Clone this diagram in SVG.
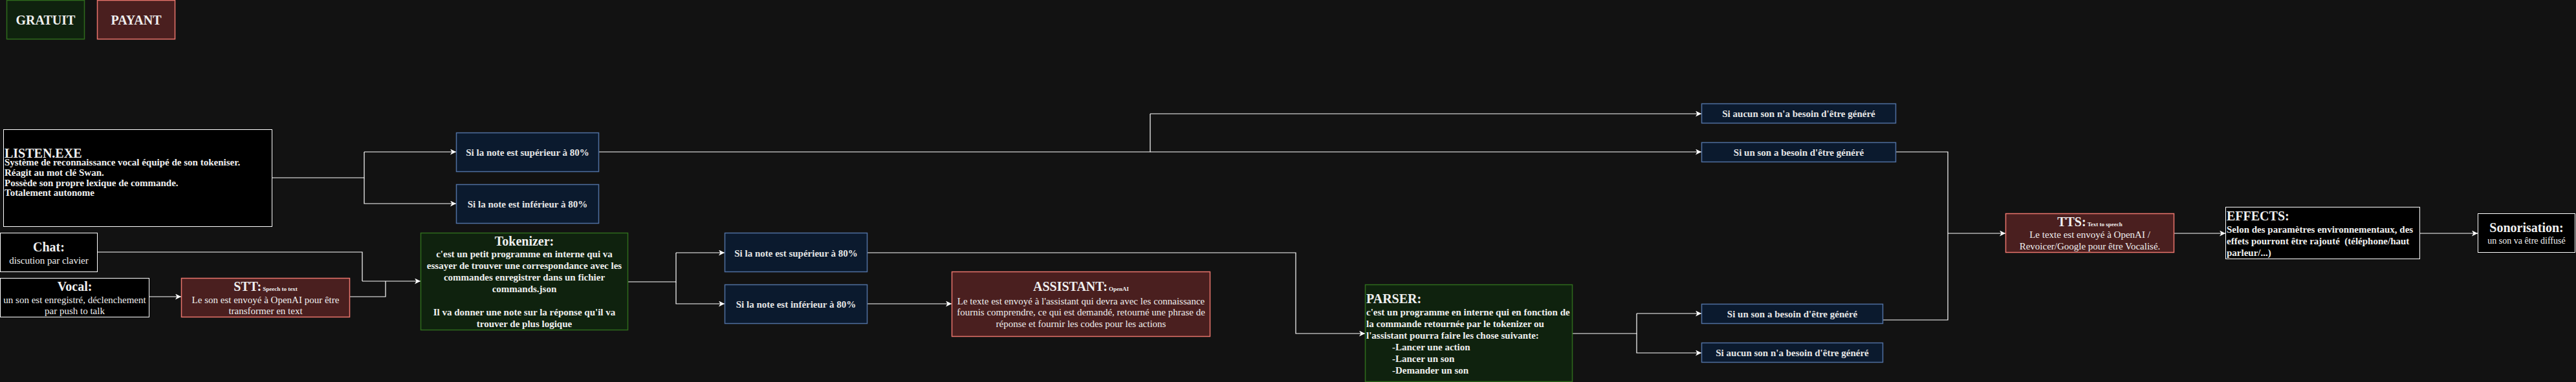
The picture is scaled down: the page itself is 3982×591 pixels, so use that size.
<svg xmlns="http://www.w3.org/2000/svg" width="3982" height="591" viewBox="0 0 3982 591">
<style>
text{font-family:"Liberation Serif","Times New Roman",serif;fill:#f0f0f0}
.t{font-size:20px;font-weight:bold}
.s{font-size:9px;font-weight:bold}
.r{font-size:15px}
.bb{font-size:15px;font-weight:bold}
.c{text-anchor:middle}
.blk{fill:#000;stroke:#fff;stroke-width:1}
.grn{fill:#0f220e;stroke:#2f6b1c;stroke-width:1.5}
.red{fill:#4a1f1f;stroke:#e9756c;stroke-width:1.5}
.blu{fill:#0b1a2e;stroke:#4f6fa0;stroke-width:1.5}
.blu + text{fill:#e6e6e6}
.ln{fill:none;stroke:#fff;stroke-width:1.2}
.ar{marker-end:url(#a)}
</style>
<defs>
<marker id="a" markerWidth="10" markerHeight="10" refX="9" refY="4.5" orient="auto" markerUnits="userSpaceOnUse"><path d="M0,0 L9,4.5 L0,9 L2.5,4.5 Z" fill="#fff"/></marker>
</defs>
<rect x="0" y="0" width="3982" height="591" fill="#121212"/>

<g id="connectors">
<path class="ln" d="M421 275 H563 V235"/>
<path class="ln ar" d="M563 235 H705"/>
<path class="ln ar" d="M563 275 V315 H705"/>
<path class="ln" d="M151 390 H560 V435"/>
<path class="ln" d="M541 459 H596 V435"/>
<path class="ln ar" d="M560 435 H650"/>
<path class="ln ar" d="M231 459 H280"/>
<path class="ln" d="M971 436 H1045 V391"/>
<path class="ln ar" d="M1045 391 H1120"/>
<path class="ln ar" d="M1045 436 V470 H1120"/>
<path class="ln ar" d="M1340 391 H2003 V516 H2110"/>
<path class="ln ar" d="M1340 470 H1471"/>
<path class="ln" d="M926 235 H1778 V176"/>
<path class="ln ar" d="M1778 176 H2630"/>
<path class="ln ar" d="M1778 235 H2630"/>
<path class="ln" d="M2431 516 H2530 V485"/>
<path class="ln ar" d="M2530 485 H2630"/>
<path class="ln ar" d="M2530 516 V546 H2630"/>
<path class="ln" d="M2931 235 H3011 V361"/>
<path class="ln" d="M2910 495 H3011 V361"/>
<path class="ln ar" d="M3011 361 H3100"/>
<path class="ln ar" d="M3361 361 H3440"/>
<path class="ln ar" d="M3741 361 H3830"/>
</g>

<g id="legend-gratuit">
<rect class="grn" x="10.5" y="0.5" width="120" height="60"/>
<text class="t c" x="70.5" y="38">GRATUIT</text>
</g>
<g id="legend-payant">
<rect class="red" x="150.5" y="0.5" width="120" height="60"/>
<text class="t c" x="210.5" y="38">PAYANT</text>
</g>

<g id="listen">
<rect class="blk" x="5.5" y="200.5" width="415" height="150"/>
<text class="t" x="7" y="244">LISTEN.EXE</text>
<text class="bb" x="7" y="256">Système de reconnaissance vocal équipé de son tokeniser.</text>
<text class="bb" x="7" y="272">Réagit au mot clé Swan.</text>
<text class="bb" x="7" y="288">Possède son propre lexique de commande.</text>
<text class="bb" x="7" y="303">Totalement autonome</text>
</g>

<g id="chat">
<rect class="blk" x="0.5" y="360.5" width="150" height="60"/>
<text class="t c" x="75.5" y="389">Chat:</text>
<text class="r c" x="75.5" y="408">discution par clavier</text>
</g>

<g id="vocal">
<rect class="blk" x="0.5" y="430.5" width="230" height="60"/>
<text class="t c" x="115.5" y="450">Vocal:</text>
<text class="r c" x="115.5" y="469">un son est enregistré, déclenchement</text>
<text class="r c" x="115.5" y="486">par push to talk</text>
</g>

<g id="stt">
<rect class="red" x="280.5" y="430.5" width="260" height="60"/>
<text class="c" x="410.5" y="450"><tspan class="t">STT:</tspan><tspan class="s"> Speech to text</tspan></text>
<text class="r c" x="410.5" y="469">Le son est envoyé à OpenAI pour être</text>
<text class="r c" x="410.5" y="486">transformer en text</text>
</g>

<g id="tokenizer">
<rect class="grn" x="650.5" y="360.5" width="320" height="150"/>
<text class="t c" x="810.5" y="380">Tokenizer:</text>
<text class="bb c" x="810.5" y="398">c'est un petit programme en interne qui va</text>
<text class="bb c" x="810.5" y="416">essayer de trouver une correspondance avec les</text>
<text class="bb c" x="810.5" y="434">commandes enregistrer dans un fichier</text>
<text class="bb c" x="810.5" y="452">commands.json</text>
<text class="bb c" x="810.5" y="488">Il va donner une note sur la réponse qu'il va</text>
<text class="bb c" x="810.5" y="506">trouver de plus logique</text>
</g>

<g id="listen-sup">
<rect class="blu" x="705.5" y="205.5" width="220" height="60"/>
<text class="bb c" x="815.5" y="241">Si la note est supérieur à 80%</text>
</g>
<g id="listen-inf">
<rect class="blu" x="705.5" y="285.5" width="220" height="60"/>
<text class="bb c" x="815.5" y="321">Si la note est inférieur à 80%</text>
</g>

<g id="tok-sup">
<rect class="blu" x="1120.5" y="360.5" width="220" height="60"/>
<text class="bb c" x="1230.5" y="397">Si la note est supérieur à 80%</text>
</g>
<g id="tok-inf">
<rect class="blu" x="1120.5" y="440.5" width="220" height="60"/>
<text class="bb c" x="1230.5" y="476">Si la note est inférieur à 80%</text>
</g>

<g id="assistant">
<rect class="red" x="1471.5" y="420.5" width="399" height="100"/>
<text class="c" x="1671" y="450"><tspan class="t">ASSISTANT:</tspan><tspan class="s"> OpenAI</tspan></text>
<text class="r c" x="1671" y="471">Le texte est envoyé à l'assistant qui devra avec les connaissance</text>
<text class="r c" x="1671" y="488">fournis comprendre, ce qui est demandé, retourné une phrase de</text>
<text class="r c" x="1671" y="506">réponse et fournir les codes pour les actions</text>
</g>

<g id="parser">
<rect class="grn" x="2110.5" y="440.5" width="320" height="150"/>
<text class="t" x="2112" y="469">PARSER:</text>
<text class="bb" x="2112" y="488">c'est un programme en interne qui en fonction de</text>
<text class="bb" x="2112" y="506">la commande retournée par le tokenizer ou</text>
<text class="bb" x="2112" y="524">l'assistant pourra faire les chose suivante:</text>
<text class="bb" x="2152" y="542">-Lancer une action</text>
<text class="bb" x="2152" y="560">-Lancer un son</text>
<text class="bb" x="2152" y="578">-Demander un son</text>
</g>

<g id="top-aucun">
<rect class="blu" x="2630.5" y="160.5" width="300" height="30"/>
<text class="bb c" x="2780.5" y="181">Si aucun son n'a besoin d'être généré</text>
</g>
<g id="top-son">
<rect class="blu" x="2630.5" y="220.5" width="300" height="30"/>
<text class="bb c" x="2780.5" y="241">Si un son a besoin d'être généré</text>
</g>
<g id="bot-son">
<rect class="blu" x="2630.5" y="470.5" width="280" height="30"/>
<text class="bb c" x="2770.5" y="491">Si un son a besoin d'être généré</text>
</g>
<g id="bot-aucun">
<rect class="blu" x="2630.5" y="530.5" width="280" height="30"/>
<text class="bb c" x="2770.5" y="551">Si aucun son n'a besoin d'être généré</text>
</g>

<g id="tts">
<rect class="red" x="3100.5" y="330.5" width="260" height="60"/>
<text class="c" x="3230.5" y="350"><tspan class="t">TTS:</tspan><tspan class="s"> Text to speech</tspan></text>
<text class="r c" x="3230.5" y="368">Le texte est envoyé à OpenAI /</text>
<text class="r c" x="3230.5" y="386">Revoicer/Google pour être Vocalisé.</text>
</g>

<g id="effects">
<rect class="blk" x="3440.5" y="320.5" width="300" height="80"/>
<text class="t" x="3442" y="341">EFFECTS:</text>
<text class="bb" x="3442" y="360">Selon des paramètres environnementaux, des</text>
<text class="bb" x="3442" y="378" xml:space="preserve">effets pourront être rajouté  (téléphone/haut</text>
<text class="bb" x="3442" y="396">parleur/...)</text>
</g>

<g id="sonorisation">
<rect class="blk" x="3830.5" y="330.5" width="150" height="60"/>
<text class="t c" x="3905.5" y="359">Sonorisation:</text>
<text class="c" x="3905.5" y="377" font-size="14">un son va être diffusé</text>
</g>
</svg>
